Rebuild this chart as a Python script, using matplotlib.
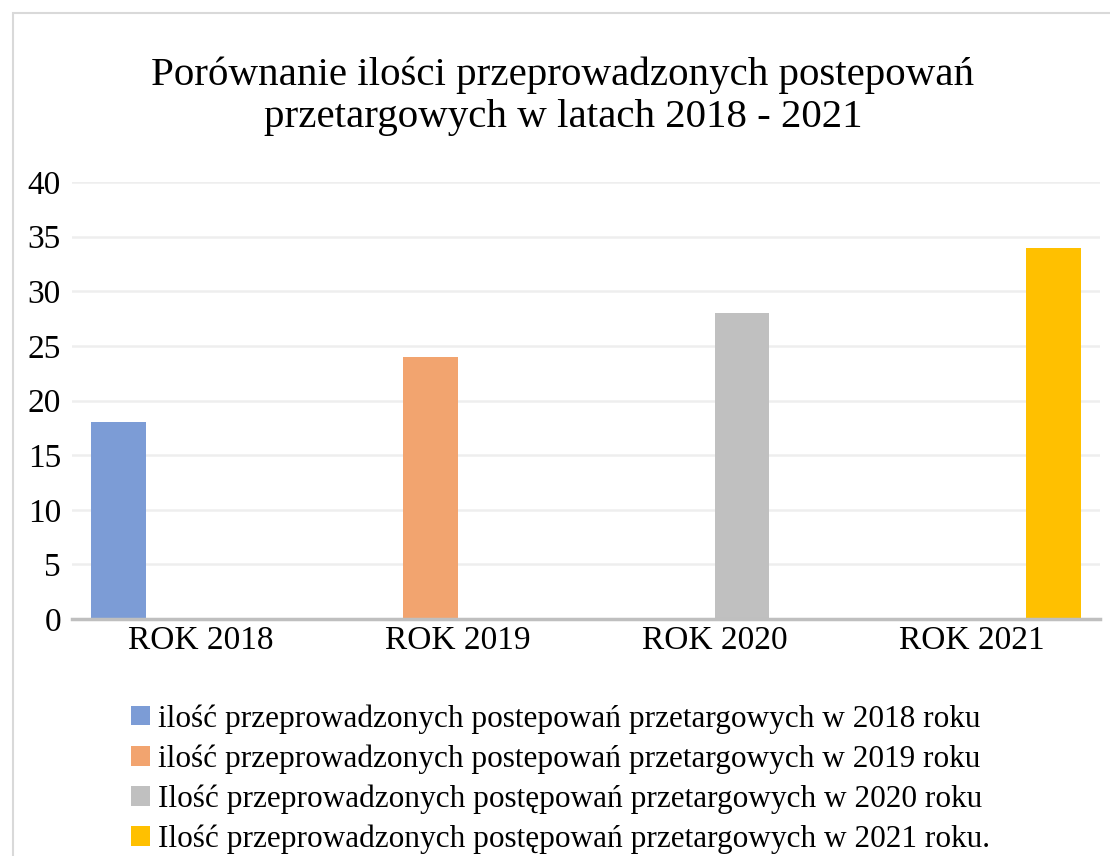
import matplotlib
matplotlib.use("Agg")
import matplotlib.pyplot as plt
from matplotlib.patches import Rectangle

CATEGORIES = ["ROK 2018", "ROK 2019", "ROK 2020", "ROK 2021"]
SERIES_LABELS = [
    "ilość przeprowadzonych postepowań przetargowych w 2018 roku",
    "ilość przeprowadzonych postepowań przetargowych w 2019 roku",
    "Ilość przeprowadzonych postępowań przetargowych w 2020 roku",
    "Ilość przeprowadzonych postępowań przetargowych w 2021 roku.",
]
SERIES_2018 = [18, 0, 0, 0]
SERIES_2019 = [0, 24, 0, 0]
SERIES_2020 = [0, 0, 28, 0]
SERIES_2021 = [0, 0, 0, 34]
Y_TICKS = [0, 5, 10, 15, 20, 25, 30, 35, 40]
TITLE = "Porównanie ilości przeprowadzonych postepowań\nprzetargowych w latach 2018 - 2021"

COLORS = ["#7C9CD6", "#F2A46F", "#C0C0C0", "#FFC000"]

plt.rcParams["font.family"] = ["Liberation Serif", "DejaVu Serif"]

W, H = 1110, 856
fig = plt.figure(figsize=(W / 100, H / 100), dpi=100)
fig.patch.set_facecolor("white")

# chart border (Excel chart area), cut off at right and bottom
fig.patches.append(Rectangle((13 / W, -0.1), 1.2, (H - 13) / H + 0.1,
                             transform=fig.transFigure, fill=False,
                             edgecolor="#D9D9D9", linewidth=1.5))

ax = fig.add_axes([72 / W, (H - 619) / H, (1100 - 72) / W, (619 - 182) / H])

width = 0.214
all_series = [SERIES_2018, SERIES_2019, SERIES_2020, SERIES_2021]
x = list(range(len(CATEGORIES)))
for i, (vals, lab, col) in enumerate(zip(all_series, SERIES_LABELS, COLORS)):
    ax.bar([xi + (i - 1.5) * width for xi in x], vals, width=width,
           color=col, label=lab, zorder=3)

ax.set_xlim(-0.5, len(CATEGORIES) - 0.5)
ax.set_ylim(0, 40)
ax.set_yticks(Y_TICKS)
ax.set_xticks(x)
ax.set_xticklabels(CATEGORIES)
ax.tick_params(axis="both", length=0, labelsize=24, colors="black")
ax.tick_params(axis="y", pad=8)
ax.tick_params(axis="x", pad=5)
ax.grid(axis="y", color="#EEEEEE", linewidth=1.8, zorder=0)
for side in ["top", "right", "left"]:
    ax.spines[side].set_visible(False)
ax.spines["bottom"].set_color("#BFBFBF")
ax.spines["bottom"].set_linewidth(2.5)
ax.spines["bottom"].set_zorder(4)

fig.text(563 / W, 1 - 57 / H, TITLE, ha="center", va="top", fontsize=29.5,
         linespacing=1.15)

fig.legend(loc="upper left", bbox_to_anchor=(131 / W, 1 - 704 / H),
           frameon=False, fontsize=22.5, handlelength=0.6, handleheight=0.6,
           handletextpad=0.27, labelspacing=0.34, borderpad=0, borderaxespad=0)

fig.savefig("out.png", dpi=100)
